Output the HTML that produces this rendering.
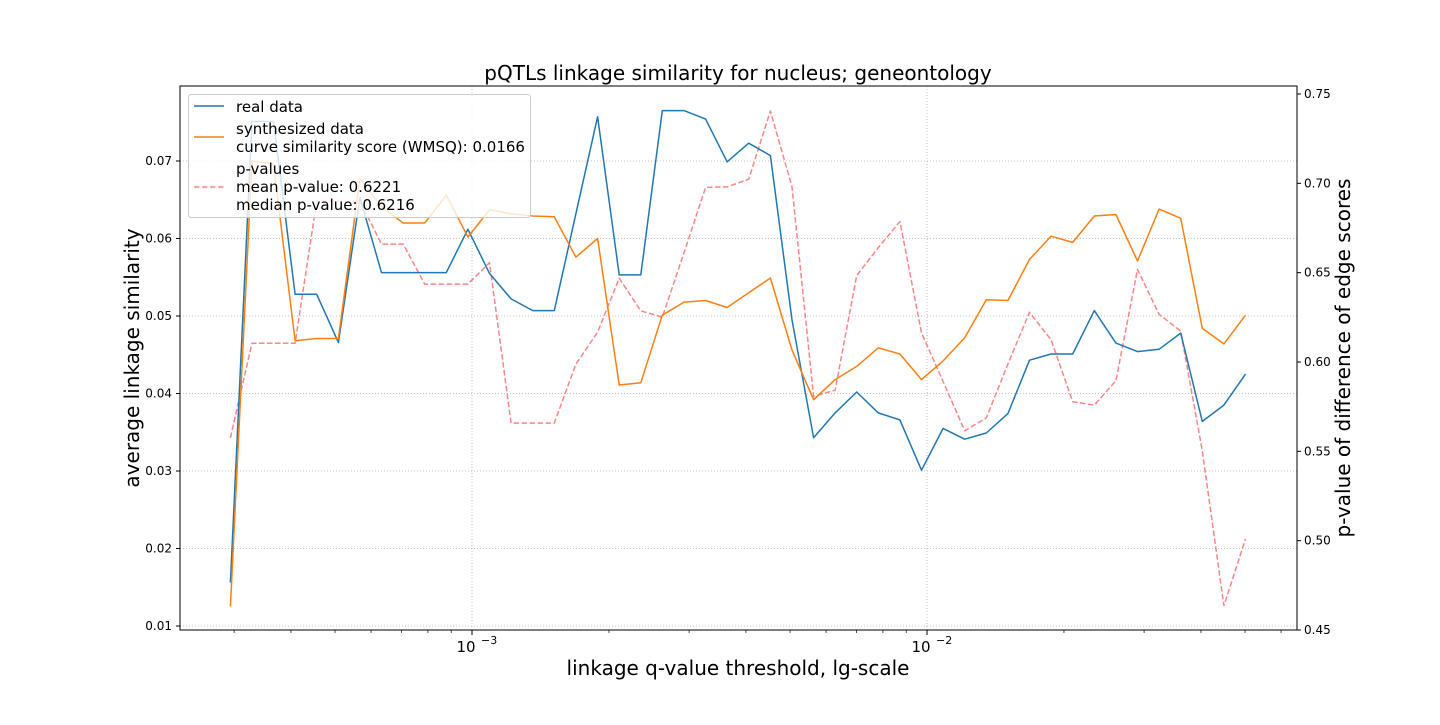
<!DOCTYPE html>
<html><head><meta charset="utf-8"><style>
body{margin:0;background:#fff;}
svg text{font-family:"DejaVu Sans","Liberation Sans",sans-serif;}
</style></head><body>
<svg id="chart" width="1440" height="720" xmlns="http://www.w3.org/2000/svg">
<rect width="1440" height="720" fill="#fff"/>
<g id="grid"></g>
<g id="series"></g>
<rect x="180" y="86" width="1117" height="544" fill="none" stroke="#000" stroke-width="1"/>
<g id="axes"></g>
<text x="738" y="80" font-size="20" text-anchor="middle">pQTLs linkage similarity for nucleus; geneontology</text>
<text x="738" y="675" font-size="20" text-anchor="middle">linkage q-value threshold, lg-scale</text>
<text transform="translate(139,358) rotate(-90)" font-size="20" text-anchor="middle">average linkage similarity</text>
<text transform="translate(1350,358) rotate(-90)" font-size="20" text-anchor="middle">p-value of difference of edge scores</text>
<g>
<rect x="188.5" y="94.5" width="342" height="123" rx="3" fill="#fff" fill-opacity="0.8" stroke="#ccc"/>
<line x1="194" y1="106" x2="224" y2="106" stroke="#1f77b4" stroke-width="1.5"/>
<text x="236" y="112" font-size="15">real data</text>
<line x1="194" y1="137" x2="224" y2="137" stroke="#ff7f0e" stroke-width="1.5"/>
<text x="236" y="134" font-size="15">synthesized data</text>
<text x="236" y="152" font-size="15">curve similarity score (WMSQ): 0.0166</text>
<line x1="194" y1="187" x2="224" y2="187" stroke="#ff7070" stroke-opacity="0.85" stroke-width="1.5" stroke-dasharray="5.5,2.5"/>
<text x="236" y="174" font-size="15">p-values</text>
<text x="236" y="192" font-size="15">mean p-value: 0.6221</text>
<text x="236" y="210" font-size="15">median p-value: 0.6216</text>
</g>
</svg>
<script>
const qValues=[2.944e-4,3.284e-4,3.663e-4,4.086e-4,4.558e-4,5.085e-4,5.672e-4,6.327e-4,7.058e-4,7.873e-4,8.782e-4,9.797e-4,1.0928e-3,1.219e-3,1.360e-3,1.517e-3,1.692e-3,1.888e-3,2.106e-3,2.349e-3,2.620e-3,2.923e-3,3.261e-3,3.637e-3,4.057e-3,4.526e-3,5.049e-3,5.632e-3,6.282e-3,7.008e-3,7.817e-3,8.720e-3,9.727e-3,1.0851e-2,1.2104e-2,1.3502e-2,1.5061e-2,1.6801e-2,1.8741e-2,2.0906e-2,2.3320e-2,2.6014e-2,2.9018e-2,3.2370e-2,3.6108e-2,4.0279e-2,4.4931e-2,5.0120e-2];
const realData=[0.0156,0.0751,0.0751,0.0528,0.0528,0.0466,0.0653,0.0556,0.0556,0.0556,0.0556,0.0612,0.0555,0.0522,0.0507,0.0507,0.0632,0.0757,0.0553,0.0553,0.0765,0.0765,0.0754,0.0699,0.0723,0.0707,0.0495,0.0343,0.0375,0.0402,0.0375,0.0366,0.0301,0.0355,0.0341,0.0349,0.0374,0.0443,0.0451,0.0451,0.0507,0.0465,0.0454,0.0457,0.0478,0.0364,0.0385,0.0425];
const synthData=[0.0125,0.0700,0.0696,0.0468,0.0471,0.0471,0.0677,0.0641,0.0620,0.0620,0.0656,0.0602,0.0637,0.0632,0.0629,0.0628,0.0576,0.0600,0.0411,0.0414,0.0501,0.0518,0.0520,0.0511,0.0530,0.0549,0.0456,0.0392,0.0418,0.0435,0.0459,0.0451,0.0418,0.0442,0.0472,0.0521,0.0520,0.0573,0.0603,0.0595,0.0629,0.0631,0.0571,0.0638,0.0626,0.0484,0.0464,0.0501];
const pValues=[0.5576,0.6105,0.6105,0.6105,0.690,0.690,0.690,0.666,0.666,0.6436,0.6436,0.6436,0.6556,0.5658,0.5658,0.5658,0.5988,0.6167,0.6469,0.6286,0.6251,0.6611,0.6977,0.6980,0.7023,0.7405,0.6980,0.5807,0.5842,0.6484,0.6640,0.6786,0.6163,0.5891,0.5615,0.5687,0.5988,0.6278,0.6124,0.5778,0.5759,0.5895,0.6519,0.6267,0.6173,0.5502,0.4636,0.5010];
const leftTicks=[0.01,0.02,0.03,0.04,0.05,0.06,0.07];
const rightTicks=[0.45,0.50,0.55,0.60,0.65,0.70,0.75];
const xMajor=[-3,-2];

const NS="http://www.w3.org/2000/svg";
const X=q=>472+(Math.log10(q)+3)*455;
const YL=v=>626-(v-0.01)*7750;
const YR=p=>630-(p-0.45)*1786.7;
function mk(t,a,parent){const e=document.createElementNS(NS,t);for(const k in a)e.setAttribute(k,a[k]);parent.appendChild(e);return e;}
const grid=document.getElementById('grid'),axes=document.getElementById('axes'),ser=document.getElementById('series');

leftTicks.forEach(v=>{const y=YL(v);
 const g=mk('line',{x1:180,x2:1297,y1:y,y2:y,stroke:'#b0b0b0','stroke-width':0.8,'stroke-dasharray':'1,2'},grid);
 
 
 const t=mk('line',{x1:176,x2:180,y1:y,y2:y,stroke:'#000'},axes);
 
 
 const l=mk('text',{x:172,y:y+4,'font-size':12,'text-anchor':'end'},axes);l.textContent=v.toFixed(2);
 
 
});
rightTicks.forEach(v=>{const y=YR(v);
 const t=mk('line',{x1:1297,x2:1301,y1:y,y2:y,stroke:'#000'},axes);
 
 
 const l=mk('text',{x:1304,y:y+4,'font-size':12},axes);l.textContent=v.toFixed(2);
 
 
});
xMajor.forEach(e=>{const x=X(Math.pow(10,e));
 const g=mk('line',{x1:x,x2:x,y1:86,y2:630,stroke:'#b0b0b0','stroke-width':0.8,'stroke-dasharray':'1,2'},grid);
 
 
 const t=mk('line',{x1:x,x2:x,y1:630,y2:635,stroke:'#000'},axes);
 
 
 const l=mk('text',{x:x-6,y:652,'font-size':15,'text-anchor':'middle'},axes);l.textContent='10';
 
 
 const s=mk('text',{x:x+9,y:644,'font-size':11},axes);s.textContent='\u2212'+Math.abs(e);
 
 
});
for(let e=-4;e<=-2;e++)for(let m=2;m<=9;m++){const x=X(m*Math.pow(10,e));if(x<180||x>1297)continue;
 const t=mk('line',{x1:x,x2:x,y1:630,y2:633,stroke:'#000','stroke-width':0.7},axes);
 
 
}
function line(vals,yf,color,dash,name,op){
 const d=vals.map((v,i)=>(i?'L':'M')+X(qValues[i]).toFixed(1)+','+yf(v).toFixed(1)).join(' ');
 const p=mk('path',{d:d,fill:'none',stroke:color,'stroke-width':1.5,'stroke-linejoin':'round'},ser);
 if(dash)p.setAttribute('stroke-dasharray',dash);
 if(op)p.setAttribute('stroke-opacity',op);
 
 
}
line(pValues,YR,'#ff7070','5.5,2.5','pvalue-line',0.85);
line(realData,YL,'#1f77b4',null,'real-data-line');
line(synthData,YL,'#ff7f0e',null,'synth-data-line');
</script>
</body></html>
